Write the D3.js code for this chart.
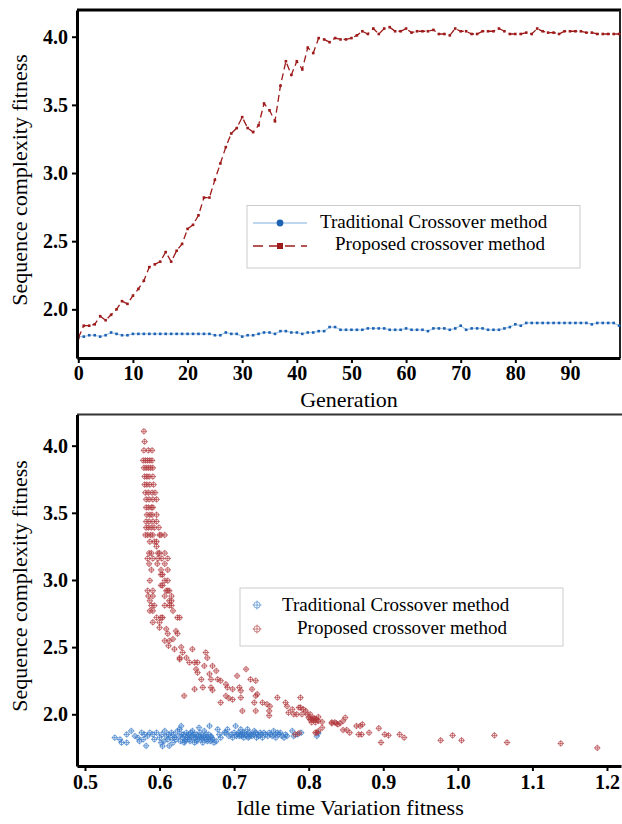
<!DOCTYPE html>
<html lang="en">
<head>
<meta charset="utf-8">
<style>
    body {
        margin: 0;
        padding: 0;
        background: #fff;
    }
    svg {
        display: block;
        font-family: "Liberation Serif", "Times New Roman", serif;
    }
</style>
</head>
<body>
<script src="https://cdn.jsdelivr.net/npm/d3@7"></script>
<script>
// ---- data ----
var seriesNames = ['Traditional Crossover method', 'Proposed crossover method'];

var generations = d3.range(0, 100);

var traditional = [
    1.80, 1.80, 1.81, 1.81, 1.80, 1.81, 1.83, 1.82, 1.81, 1.81,
    1.82, 1.82, 1.82, 1.82, 1.82, 1.82, 1.82, 1.82, 1.82, 1.82,
    1.82, 1.82, 1.82, 1.82, 1.82, 1.81, 1.81, 1.83, 1.82, 1.82,
    1.80, 1.81, 1.81, 1.82, 1.83, 1.83, 1.82, 1.84, 1.84, 1.83,
    1.83, 1.82, 1.83, 1.83, 1.84, 1.84, 1.87, 1.87, 1.85, 1.85,
    1.85, 1.85, 1.85, 1.86, 1.86, 1.86, 1.86, 1.85, 1.85, 1.85,
    1.86, 1.85, 1.85, 1.85, 1.84, 1.86, 1.86, 1.86, 1.85, 1.86,
    1.88, 1.85, 1.86, 1.86, 1.86, 1.85, 1.85, 1.85, 1.86, 1.87,
    1.89, 1.88, 1.90, 1.90, 1.90, 1.90, 1.90, 1.90, 1.90, 1.90,
    1.90, 1.90, 1.90, 1.90, 1.89, 1.90, 1.90, 1.90, 1.90, 1.88
];

var proposed = [
    1.79, 1.88, 1.88, 1.89, 1.95, 1.92, 1.96, 2.00, 2.06, 2.04,
    2.10, 2.15, 2.21, 2.31, 2.33, 2.35, 2.42, 2.35, 2.43, 2.48,
    2.59, 2.62, 2.69, 2.82, 2.82, 2.95, 3.07, 3.19, 3.29, 3.33,
    3.41, 3.33, 3.30, 3.35, 3.51, 3.46, 3.38, 3.64, 3.82, 3.72,
    3.82, 3.76, 3.92, 3.88, 3.99, 3.98, 3.96, 3.99, 3.98, 3.98,
    3.99, 4.01, 4.04, 4.02, 4.06, 4.02, 4.06, 4.07, 4.04, 4.04,
    4.06, 4.03, 4.04, 4.04, 4.04, 4.05, 4.02, 4.02, 4.01, 4.06,
    4.04, 4.04, 4.02, 4.02, 4.04, 4.04, 4.04, 4.06, 4.04, 4.02,
    4.02, 4.02, 4.03, 4.02, 4.06, 4.04, 4.03, 4.03, 4.02, 4.04,
    4.04, 4.04, 4.04, 4.03, 4.03, 4.02, 4.02, 4.02, 4.02, 4.02
];

var genTicks = [0, 10, 20, 30, 40, 50, 60, 70, 80, 90];
var fitTicks = [2.0, 2.5, 3.0, 3.5, 4.0];
var idleTicks = [0.5, 0.6, 0.7, 0.8, 0.9, 1.0, 1.1, 1.2];

// [idle time variation, sequence complexity]
var tradPoints = [
    [0.540,1.826],[0.547,1.813],[0.549,1.789],[0.556,1.850],[0.556,1.789],[0.562,1.876],
    [0.567,1.838],[0.571,1.826],[0.573,1.800],[0.576,1.863],[0.578,1.813],[0.580,1.850],
    [0.582,1.765],[0.584,1.838],[0.587,1.863],[0.591,1.850],[0.593,1.813],[0.596,1.863],
    [0.600,1.826],[0.602,1.789],[0.604,1.763],[0.607,1.876],[0.609,1.838],[0.611,1.813],
    [0.613,1.765],[0.616,1.863],[0.618,1.789],[0.620,1.826],[0.622,1.813],[0.624,1.876],
    [0.627,1.888],[0.629,1.913],[0.630,1.850],[0.631,1.826],[0.633,1.789],[0.634,1.800],
    [0.636,1.863],[0.638,1.838],[0.640,1.813],[0.642,1.863],[0.644,1.876],[0.645,1.826],
    [0.647,1.789],[0.649,1.850],[0.651,1.813],[0.653,1.900],[0.655,1.838],[0.656,1.826],
    [0.658,1.789],[0.660,1.876],[0.662,1.850],[0.664,1.800],[0.665,1.826],[0.667,1.913],
    [0.669,1.838],[0.671,1.813],[0.673,1.789],[0.676,1.800],[0.678,1.888],[0.680,1.850],
    [0.682,1.826],[0.687,1.863],[0.689,1.863],[0.691,1.888],[0.693,1.838],[0.696,1.850],
    [0.698,1.826],[0.700,1.863],[0.702,1.913],[0.704,1.850],[0.707,1.838],[0.709,1.888],
    [0.711,1.863],[0.713,1.826],[0.716,1.850],[0.718,1.888],[0.720,1.863],[0.722,1.850],
    [0.724,1.838],[0.727,1.876],[0.729,1.863],[0.731,1.850],[0.733,1.838],[0.736,1.850],
    [0.738,1.826],[0.740,1.863],[0.742,1.850],[0.747,1.863],[0.751,1.838],[0.753,1.876],
    [0.756,1.826],[0.758,1.863],[0.760,1.850],[0.764,1.838],[0.767,1.826],[0.769,1.850],
    [0.778,1.876],[0.780,1.838],[0.811,1.838],[0.813,1.860],
    [0.603,1.850],[0.606,1.800],[0.612,1.850],[0.615,1.826],[0.619,1.850],[0.626,1.838],
    [0.628,1.800],[0.632,1.850],[0.635,1.813],[0.637,1.826],[0.639,1.850],[0.641,1.800],
    [0.643,1.838],[0.646,1.850],[0.648,1.826],[0.650,1.800],[0.652,1.838],[0.654,1.863],
    [0.657,1.813],[0.659,1.838],[0.661,1.826],[0.663,1.813],[0.666,1.850],[0.668,1.800],
    [0.670,1.826],[0.703,1.838],[0.706,1.863],[0.708,1.850],[0.710,1.838],[0.712,1.850],
    [0.714,1.863],[0.717,1.838],[0.719,1.826],[0.721,1.838],[0.726,1.850],[0.730,1.826],
    [0.735,1.863],[0.745,1.838],[0.749,1.850],[0.755,1.850],[0.762,1.863],[0.771,1.838],
    [0.785,1.850],[0.790,1.863]
];

var propPoints = [
    [0.579,4.107],[0.580,4.03],
    [0.579,3.965],[0.585,3.965],[0.590,3.965],
    [0.578,3.89],[0.581,3.89],[0.584,3.89],[0.587,3.89],[0.590,3.89],
    [0.579,3.835],[0.582,3.835],[0.585,3.835],[0.588,3.835],[0.591,3.835],
    [0.580,3.77],[0.583,3.77],[0.586,3.77],[0.591,3.77],
    [0.580,3.71],[0.583,3.71],[0.587,3.71],[0.592,3.71],
    [0.581,3.65],[0.585,3.65],[0.590,3.65],[0.594,3.65],
    [0.582,3.60],[0.586,3.60],[0.591,3.60],[0.596,3.60],
    [0.582,3.54],[0.585,3.54],[0.589,3.54],[0.591,3.54],
    [0.583,3.485],[0.587,3.485],[0.590,3.485],[0.596,3.485],
    [0.582,3.435],[0.586,3.435],[0.591,3.435],[0.596,3.435],
    [0.582,3.39],[0.585,3.39],[0.589,3.39],[0.593,3.39],[0.599,3.39],
    [0.581,3.335],[0.584,3.335],[0.588,3.335],[0.591,3.335],[0.600,3.335],[0.602,3.335],[0.607,3.335],
    [0.587,3.285],[0.593,3.285],[0.596,3.285],
    [0.596,3.25],
    [0.586,3.20],[0.589,3.20],[0.598,3.20],[0.600,3.20],[0.607,3.20],
    [0.584,3.16],[0.591,3.16],[0.598,3.16],[0.603,3.16],[0.611,3.16],
    [0.586,3.12],[0.597,3.12],[0.607,3.12],
    [0.589,3.075],[0.602,3.075],[0.611,3.075],
    [0.602,3.04],[0.604,3.04],
    [0.587,2.995],[0.607,2.995],[0.611,2.995],
    [0.602,2.96],[0.604,2.96],
    [0.584,2.92],[0.591,2.92],[0.609,2.92],[0.611,2.92],[0.613,2.92],
    [0.585,2.88],[0.591,2.88],[0.607,2.88],[0.616,2.88],
    [0.587,2.845],[0.613,2.845],[0.616,2.845],
    [0.589,2.81],[0.593,2.81],[0.607,2.81],[0.613,2.81],[0.616,2.81],
    [0.587,2.77],[0.591,2.77],[0.618,2.77],
    [0.596,2.72],[0.602,2.72],[0.604,2.72],[0.624,2.72],[0.627,2.72],
    [0.591,2.685],[0.600,2.685],
    [0.600,2.645],[0.609,2.635],[0.622,2.62],[0.611,2.60],[0.624,2.60],[0.618,2.56],
    [0.607,2.547],[0.613,2.547],[0.612,2.51],[0.629,2.50],[0.620,2.485],[0.644,2.485],
    [0.631,2.46],[0.662,2.46],[0.636,2.42],[0.627,2.42],[0.664,2.42],[0.627,2.41],
    [0.640,2.386],[0.647,2.386],[0.651,2.386],[0.660,2.36],[0.671,2.36],[0.649,2.336],
    [0.716,2.336],[0.676,2.323],[0.651,2.31],[0.667,2.30],[0.704,2.286],[0.656,2.26],
    [0.669,2.26],[0.678,2.26],[0.722,2.26],[0.682,2.25],[0.729,2.25],[0.689,2.224],
    [0.658,2.20],[0.669,2.20],[0.691,2.20],[0.707,2.20],[0.647,2.187],[0.698,2.187],
    [0.724,2.187],[0.671,2.18],[0.709,2.175],[0.731,2.15],[0.633,2.137],[0.689,2.137],
    [0.729,2.137],[0.709,2.124],[0.758,2.124],[0.789,2.124],[0.693,2.12],[0.698,2.11],
    [0.682,2.087],[0.727,2.087],[0.738,2.087],[0.769,2.087],[0.744,2.075],[0.748,2.06],
    [0.771,2.06],[0.787,2.05],[0.789,2.05],[0.778,2.037],[0.793,2.037],[0.711,2.025],
    [0.729,2.025],[0.747,2.025],[0.796,2.025],[0.773,2.012],[0.780,2.0],[0.784,2.0],
    [0.791,2.0],[0.798,2.0],[0.802,2.0],[0.747,1.99],[0.813,1.98],[0.800,1.975],
    [0.803,1.97],[0.806,1.97],[0.808,1.97],[0.802,1.96],[0.805,1.96],[0.809,1.96],
    [0.811,1.96],[0.813,1.95],[0.818,1.943],[0.804,1.94],[0.809,1.94],
    [0.831,1.94],[0.835,1.94],[0.831,1.933],[0.837,1.933],[0.842,1.933],[0.839,1.925],
    [0.872,1.925],[0.846,1.95],[0.849,1.975],[0.864,1.913],[0.869,1.913],[0.818,1.90],
    [0.894,1.896],[0.846,1.883],[0.851,1.883],[0.813,1.875],[0.809,1.863],[0.811,1.863],
    [0.855,1.863],[0.881,1.863],[0.787,1.86],[0.782,1.85],[0.867,1.85],[0.871,1.85],
    [0.902,1.85],[0.922,1.85],[0.907,1.843],[0.993,1.843],[1.049,1.843],[0.928,1.826],
    [0.977,1.806],[1.005,1.806],[0.897,1.79],[1.066,1.79],[1.138,1.783],[1.187,1.75]
];

// ---- drawing ----
var W = 622, H = 824;
var RED = '#9e1b1b', BLUE_LINE = '#a9c9ea', BLUE_DOT = '#1d62b3';
var SC_RED = '#b0383c', SC_BLUE = '#3478c8';

var svg = d3.select('body').append('svg')
    .attr('width', W)
    .attr('height', H);

// top chart scales (frame 77..620 x 10..358)
var x1 = d3.scaleLinear().domain([-0.24, 99.16]).range([77, 620]);
var y1 = d3.scaleLinear().domain([1.643, 4.196]).range([358, 10]);

// bottom chart scales (frame 77..621 x 414..766)
var x2 = d3.scaleLinear().domain([0.4893, 1.2188]).range([77, 621]);
var y2 = d3.scaleLinear().domain([1.615, 4.232]).range([766, 414.5]);

function styleAxis(g) {
    g.select('.domain').attr('stroke', '#000').attr('stroke-width', 3);
    g.selectAll('.tick line').attr('stroke', '#000').attr('stroke-width', 2);
    g.selectAll('.tick text')
        .attr('font-family', '"Liberation Serif", serif')
        .attr('font-size', 20)
        .attr('font-weight', 'bold')
        .attr('fill', '#000');
}

// ===== top chart =====
var gTop = svg.append('g');

// frame top and right
gTop.append('line').attr('x1', 77).attr('x2', 621).attr('y1', 10).attr('y2', 10)
    .attr('stroke', '#000').attr('stroke-width', 3);
gTop.append('line').attr('x1', 620).attr('x2', 620).attr('y1', 10).attr('y2', 358)
    .attr('stroke', '#222').attr('stroke-width', 2);

var lineTop = d3.line()
    .x(function (d, i) { return x1(generations[i]); })
    .y(function (d) { return y1(d); });

gTop.append('path')
    .datum(traditional)
    .attr('d', lineTop)
    .attr('fill', 'none')
    .attr('stroke', BLUE_LINE)
    .attr('stroke-width', 1.2);

gTop.selectAll('rect.trad')
    .data(traditional)
    .enter()
    .append('rect')
    .attr('class', 'trad')
    .attr('x', function (d, i) { return x1(generations[i]) - 1.3; })
    .attr('y', function (d) { return y1(d) - 1.3; })
    .attr('width', 2.6)
    .attr('height', 2.6)
    .attr('fill', BLUE_DOT);

gTop.append('path')
    .datum(proposed)
    .attr('d', lineTop)
    .attr('fill', 'none')
    .attr('stroke', RED)
    .attr('stroke-width', 1.3)
    .attr('stroke-dasharray', '7,4');

gTop.selectAll('rect.prop')
    .data(proposed)
    .enter()
    .append('rect')
    .attr('class', 'prop')
    .attr('x', function (d, i) { return x1(generations[i]) - 1.3; })
    .attr('y', function (d) { return y1(d) - 1.3; })
    .attr('width', 2.6)
    .attr('height', 2.6)
    .attr('fill', RED);

gTop.append('g')
    .attr('transform', 'translate(0,358)')
    .call(d3.axisBottom(x1).tickValues(genTicks).tickSize(5).tickSizeOuter(0).tickPadding(3))
    .call(styleAxis);

gTop.append('g')
    .attr('transform', 'translate(77,0)')
    .call(d3.axisLeft(y1).tickValues(fitTicks).tickFormat(d3.format('.1f'))
        .tickSize(5).tickSizeOuter(0).tickPadding(4))
    .call(styleAxis);

gTop.append('text')
    .attr('x', 349).attr('y', 407)
    .attr('text-anchor', 'middle')
    .attr('font-size', 22)
    .text('Generation');

gTop.append('text')
    .attr('transform', 'translate(27,180) rotate(-90)')
    .attr('text-anchor', 'middle')
    .attr('font-size', 22)
    .text('Sequence complexity fitness');

// legend top
var lg1 = gTop.append('g');
lg1.append('rect')
    .attr('x', 247).attr('y', 205.5).attr('width', 333).attr('height', 62.5)
    .attr('fill', '#fff').attr('stroke', '#ccc').attr('stroke-width', 1);
lg1.append('line').attr('x1', 253).attr('x2', 307).attr('y1', 223).attr('y2', 223)
    .attr('stroke', BLUE_LINE).attr('stroke-width', 1.5);
lg1.append('circle').attr('cx', 280).attr('cy', 223).attr('r', 3.4).attr('fill', BLUE_DOT);
lg1.append('line').attr('x1', 253).attr('x2', 307).attr('y1', 246).attr('y2', 246)
    .attr('stroke', RED).attr('stroke-width', 1.5).attr('stroke-dasharray', '10,6');
lg1.append('rect').attr('x', 277).attr('y', 243).attr('width', 6).attr('height', 6).attr('fill', RED);
lg1.append('text').attr('x', 320).attr('y', 228).attr('font-size', 19).text(seriesNames[0]);
lg1.append('text').attr('x', 335).attr('y', 250).attr('font-size', 19).text(seriesNames[1]);

// ===== bottom chart =====
var gBot = svg.append('g');

gBot.append('line').attr('x1', 77).attr('x2', 622).attr('y1', 414.5).attr('y2', 414.5)
    .attr('stroke', '#333').attr('stroke-width', 2);

// crosshair marker: plus inside a small ring
function marker(r) {
    return 'M' + (-r) + ',0H' + r + 'M0,' + (-r) + 'V' + r +
        'M' + (r * 0.7) + ',0A' + (r * 0.7) + ',' + (r * 0.7) + ' 0 1,1 ' + (-r * 0.7) + ',0' +
        'A' + (r * 0.7) + ',' + (r * 0.7) + ' 0 1,1 ' + (r * 0.7) + ',0';
}

gBot.selectAll('path.tp')
    .data(tradPoints)
    .enter()
    .append('path')
    .attr('class', 'tp')
    .attr('transform', function (d) { return 'translate(' + x2(d[0]) + ',' + y2(d[1]) + ')'; })
    .attr('d', marker(3.2))
    .attr('fill', 'none')
    .attr('stroke', SC_BLUE)
    .attr('stroke-width', 1)
    .attr('stroke-opacity', 0.65);

gBot.selectAll('path.pp')
    .data(propPoints)
    .enter()
    .append('path')
    .attr('class', 'pp')
    .attr('transform', function (d) { return 'translate(' + x2(d[0]) + ',' + y2(d[1]) + ')'; })
    .attr('d', marker(3.2))
    .attr('fill', 'none')
    .attr('stroke', SC_RED)
    .attr('stroke-width', 1)
    .attr('stroke-opacity', 0.65);

gBot.append('g')
    .attr('transform', 'translate(0,766)')
    .call(d3.axisBottom(x2).tickValues(idleTicks).tickFormat(d3.format('.1f'))
        .tickSize(5).tickSizeOuter(0).tickPadding(4))
    .call(styleAxis);

gBot.append('g')
    .attr('transform', 'translate(77,0)')
    .call(d3.axisLeft(y2).tickValues(fitTicks).tickFormat(d3.format('.1f'))
        .tickSize(5).tickSizeOuter(0).tickPadding(4))
    .call(styleAxis);

gBot.append('text')
    .attr('x', 350).attr('y', 815)
    .attr('text-anchor', 'middle')
    .attr('font-size', 22)
    .text('Idle time Variation fitness');

gBot.append('text')
    .attr('transform', 'translate(27,586) rotate(-90)')
    .attr('text-anchor', 'middle')
    .attr('font-size', 22)
    .text('Sequence complexity fitness');

// legend bottom
var lg2 = gBot.append('g');
lg2.append('rect')
    .attr('x', 240).attr('y', 588).attr('width', 323).attr('height', 58)
    .attr('fill', '#fff').attr('stroke', '#ccc').attr('stroke-width', 1);
lg2.append('path').attr('transform', 'translate(257,605)').attr('d', marker(4.5))
    .attr('fill', 'none').attr('stroke', SC_BLUE).attr('stroke-width', 1).attr('stroke-opacity', 0.6);
lg2.append('path').attr('transform', 'translate(257,629)').attr('d', marker(4.5))
    .attr('fill', 'none').attr('stroke', SC_RED).attr('stroke-width', 1).attr('stroke-opacity', 0.6);
lg2.append('text').attr('x', 282).attr('y', 611).attr('font-size', 19).text(seriesNames[0]);
lg2.append('text').attr('x', 297).attr('y', 634).attr('font-size', 19).text(seriesNames[1]);
</script>
</body>
</html>
